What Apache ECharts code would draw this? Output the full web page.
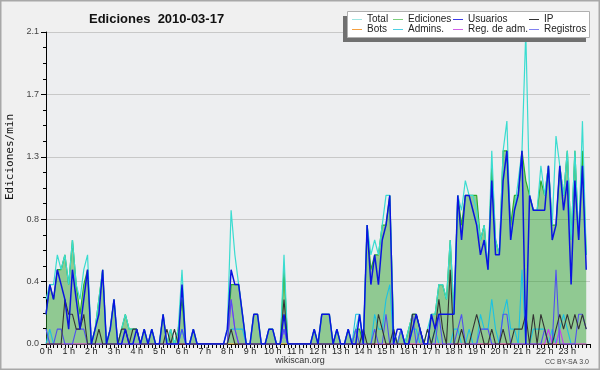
<!DOCTYPE html>
<html><head><meta charset="utf-8">
<script src="https://cdn.jsdelivr.net/npm/echarts/dist/echarts.min.js"></script>
<style>html,body{margin:0;padding:0;background:#f0f0f0}#c{width:600px;height:370px}</style>
</head><body><div id="c"></div>
<script>
const hourLabels = ['0 h','1 h','2 h','3 h','4 h','5 h','6 h','7 h','8 h','9 h','10 h','11 h','12 h','13 h','14 h','15 h','16 h','17 h','18 h','19 h','20 h','21 h','22 h','23 h'];
const legendNames = ['Total','Ediciones','Usuarios','IP','Bots','Admins.','Reg. de adm.','Registros'];
// values per 10-minute slot (edits/min), 6 per hour
const total = [
 0.3,0.4,0.4,0.6,0.5,0.6, 0.4,0.7,0.4,0.3,0.5,0.6, 0,0.1,0.3,0.5,0,0.1, 0.3,0,0.1,0.2,0.1,0.1,
 0.1,0,0.1,0,0.1,0, 0,0.2,0,0.1,0,0.1, 0.5,0,0,0.1,0,0, 0,0,0,0,0,0,
 0.1,0.9,0.6,0.4,0.2,0, 0,0.2,0.2,0,0,0.1, 0.1,0,0,0.6,0,0, 0,0,0,0,0,0.1,
 0,0.2,0.2,0.2,0,0.1, 0,0,0.1,0,0.1,0.2, 0,0.8,0.6,0.7,0.6,0.8, 1.0,1.0,0.1,0,0.1,0,
 0.1,0.2,0.2,0.1,0,0.1, 0.2,0.2,0.4,0.4,0.3,0.7, 0.2,1.0,0.9,1.1,1.0,1.0, 0.9,0.7,0.8,0.5,1.3,0.7,
 0.6,1.3,1.5,0.7,0.9,1.1, 1.3,2.1,1.0,0.9,0.9,1.2, 1.0,1.2,0.8,1.4,1.2,1.0, 1.3,0.7,1.3,0.7,1.5,0.6
];
const ediciones = [
 0.2,0.4,0.3,0.5,0.5,0.6, 0.4,0.7,0.4,0.2,0.4,0.5, 0,0.1,0.3,0.5,0,0.1, 0.3,0,0.1,0.2,0.1,0.1,
 0.1,0,0.1,0,0.1,0, 0,0.2,0,0.1,0,0.1, 0.3,0,0,0.1,0,0, 0,0,0,0,0,0,
 0,0.4,0.4,0.4,0.2,0, 0,0.2,0.2,0,0,0.1, 0.1,0,0,0.5,0,0, 0,0,0,0,0,0.1,
 0,0.2,0.2,0.2,0,0.1, 0,0,0.1,0,0.1,0.1, 0,0.8,0.5,0.6,0.6,0.8, 0.8,1.0,0.1,0,0.1,0,
 0.1,0.2,0.2,0.1,0,0, 0.2,0.2,0.4,0.4,0.3,0.7, 0.2,1.0,0.8,1.0,1.0,1.0, 1.0,0.7,0.8,0.5,1.2,0.7,
 0.6,1.3,1.3,0.8,1.0,1.0, 1.3,1.1,1.0,0.9,0.9,1.1, 1.0,1.2,0.8,0.8,1.2,1.0, 1.3,0.7,1.3,0.7,1.3,0.6
];
const usuarios = [
 0.2,0.4,0.3,0.5,0.4,0.3, 0.1,0.5,0.3,0.1,0.3,0.5, 0,0.1,0.2,0.5,0,0.1, 0.3,0,0,0.1,0,0,
 0.1,0,0.1,0,0.1,0, 0,0.2,0,0,0,0, 0.4,0,0,0.1,0,0, 0,0,0,0,0,0,
 0.1,0.5,0.4,0.4,0.2,0, 0,0.2,0.2,0,0,0.1, 0.1,0,0,0.2,0,0, 0,0,0,0,0,0.1,
 0,0.2,0.2,0.2,0,0.1, 0,0,0.1,0,0,0.2, 0,0.8,0.4,0.6,0.4,0.7, 0.8,1.0,0,0.1,0.1,0,
 0,0.1,0.2,0.1,0,0, 0.2,0.1,0.2,0.2,0.2,0.2, 0.2,1.0,0.7,1.0,1.0,0.9, 0.8,0.6,0.7,0.5,1.1,0.6,
 0.6,1.1,1.3,0.7,0.9,1.0, 1.3,0,1.0,0.9,0.9,0.9, 0.9,1.2,0.7,0.8,1.2,0.9, 1.1,0.4,1.1,0.7,1.2,0.5
];
const ip = [
 0,0,0,0,0,0.3, 0.2,0.2,0.1,0.1,0.2,0, 0,0,0.1,0,0,0, 0,0,0.1,0.1,0,0.1,
 0.1,0,0,0,0,0, 0,0,0.1,0,0.1,0, 0,0,0,0,0,0, 0,0,0,0,0,0,
 0,0.1,0,0,0,0, 0,0,0,0,0,0, 0,0,0,0.3,0,0, 0,0,0,0,0,0,
 0,0,0,0,0,0, 0,0,0,0,0,0, 0.1,0,0,0,0.2,0.1, 0,0,0.1,0,0,0,
 0,0.2,0.2,0.1,0,0.1, 0,0.1,0.3,0.1,0,0.5, 0,0,0.1,0,0,0.1, 0.2,0.1,0,0,0.1,0,
 0,0.1,0,0,0.1,0.1, 0.1,0.2,0,0.2,0,0.2, 0.1,0,0,0.1,0.2,0.1, 0.2,0.1,0.2,0.1,0.2,0.1
];
const bots = [
 0,0,0,0,0,0, 0,0,0,0,0,0, 0,0,0,0,0,0, 0,0,0,0,0,0,
 0,0,0,0,0,0, 0,0,0,0,0,0, 0,0,0,0,0,0, 0,0,0,0,0,0,
 0,0,0,0,0,0, 0,0,0,0,0,0, 0,0,0,0,0,0, 0,0,0,0,0,0,
 0,0,0,0,0,0, 0,0,0,0,0,0, 0,0,0,0,0,0, 0,0,0,0,0,0,
 0,0,0,0,0,0, 0,0,0,0,0,0, 0,0,0,0,0,0, 0,0,0,0,0,0,
 0,0,0,0,0,0, 0,0,0,0,0,0, 0,0,0,0,0,0, 0,0,0,0,0,0
];
const admins = [
 0,0.1,0,0,0,0, 0,0,0,0,0,0, 0,0,0,0,0,0, 0,0,0,0,0,0,
 0,0,0,0,0,0, 0,0,0,0,0,0, 0.1,0,0,0,0,0, 0,0,0,0,0,0,
 0,0.1,0.1,0.1,0.1,0, 0,0,0,0,0,0, 0,0,0,0.1,0,0, 0,0,0,0,0,0,
 0,0,0,0,0,0, 0,0,0,0,0.2,0.2, 0,0,0,0.2,0.1,0.1, 0.3,0.4,0,0,0,0,
 0,0.1,0.1,0,0,0, 0,0.1,0,0,0,0, 0.1,0.1,0,0,0.1,0, 0,0.2,0.1,0.1,0.3,0.1,
 0,0.2,0.3,0.1,0.1,0, 0.5,0,0,0.1,0.1,0.1, 0.1,0,0.1,0,0.1,0.2, 0.1,0,0,0,0,0
];
const regAdm = [
 0,0,0,0,0,0, 0,0,0,0,0,0, 0,0,0,0,0,0, 0,0,0,0,0,0,
 0,0,0,0,0,0, 0,0,0,0,0,0, 0,0,0,0,0,0, 0,0,0,0,0,0,
 0,0.3,0.1,0,0,0, 0,0,0,0,0,0, 0,0,0,0.1,0,0, 0,0,0,0,0,0,
 0,0,0,0,0,0, 0,0,0,0,0,0, 0,0,0,0,0,0, 0,0,0,0,0,0,
 0,0,0,0,0,0, 0,0,0,0,0,0, 0,0,0,0,0,0, 0,0,0,0,0,0,
 0,0,0,0,0,0, 0,0,0,0,0,0, 0,0.1,0,0,0.1,0, 0,0,0,0,0,0
];
const registros = [
 0.1,0,0,0.1,0.1,0, 0,0,0.1,0.1,0.1,0, 0,0,0,0,0,0, 0,0,0,0,0,0,
 0,0,0,0,0,0, 0,0,0,0,0,0, 0.1,0,0,0,0,0, 0,0,0,0,0,0,
 0,0.3,0.1,0,0,0, 0,0,0,0,0,0, 0,0,0,0.1,0,0, 0,0,0,0,0,0,
 0,0,0,0,0,0, 0,0,0,0,0.1,0, 0,0,0,0.1,0,0, 0.2,0,0,0,0.1,0,
 0,0.2,0,0.1,0,0, 0,0,0.2,0,0,0, 0,0.1,0.2,0,0,0, 0,0.1,0.1,0.1,0,0,
 0,0.2,0.2,0,0,0, 0,0,0,0,0,0, 0.1,0,0,0.5,0,0, 0,0,0,0.2,0.2,0.1
];

const colors = {
  total:'#3adcd0', ediciones:'#2aae2a', usuarios:'#0a14e0', ip:'#333333',
  bots:'#ff9a30', admins:'#1cc2e2', regAdm:'#c83cf0', registros:'#5050f0'
};
const legendColors = ['#9ee6e2','#7ccf7c','#3a3ae8','#333333','#f5a040','#4fd0e4','#d060e8','#8080f0'];

function pts(arr){ return arr.map((v,i)=>[i,v]); }
function line(name, arr, color, w, extra){
  return Object.assign({type:'line', name, data:pts(arr), showSymbol:false, symbol:'none',
    lineStyle:{color, width:w}, itemStyle:{color}, silent:true}, extra||{});
}

const chart = echarts.init(document.getElementById('c'), null, {renderer:'canvas'});

const legendCols = [352, 393, 453, 529];
const legendRows = [19, 29];
const legendGraphics = [];
legendNames.forEach((n,k)=>{
  const col = k%4, row = Math.floor(k/4);
  const x = legendCols[col], y = legendRows[row];
  legendGraphics.push({type:'line', shape:{x1:x, y1:y+0.5, x2:x+10, y2:y+0.5}, style:{stroke:legendColors[k], lineWidth:1}, z:102});
  legendGraphics.push({type:'text', x:x+15, y:y, style:{text:n, font:'10px "Liberation Sans"', fill:'#222', verticalAlign:'middle', align:'left'}, z:102});
});

chart.setOption({
  animation:false,
  backgroundColor:'#f0f0f0',
  title:{text:'Ediciones  2010-03-17', left:84, top:8,
    textStyle:{fontSize:13, fontWeight:'bold', fontFamily:'Liberation Sans', color:'#111'}},
  grid:{left:46, right:10, top:32, bottom:26, show:true, backgroundColor:'#edeef0', borderWidth:0},
  xAxis:{type:'value', min:0, max:144, interval:6,
    axisLine:{lineStyle:{color:'#000', width:1}},
    axisTick:{show:true, length:4, lineStyle:{color:'#000'}},
    minorTick:{show:true, splitNumber:6, length:4, lineStyle:{color:'#000'}},
    splitLine:{show:false},
    axisLabel:{margin:3, fontSize:9, color:'#222', fontFamily:'Liberation Sans',
      formatter:v=>hourLabels[Math.round(v/6)]||''}},
  yAxis:{type:'value', min:0, max:2.1, interval:0.42,
    axisLine:{show:true, lineStyle:{color:'#000', width:1}},
    axisTick:{show:true, length:5, lineStyle:{color:'#000'}},
    minorTick:{show:true, splitNumber:4, length:3, lineStyle:{color:'#000'}},
    splitLine:{show:true, lineStyle:{color:'#c8c8c8', width:1}},
    axisLabel:{margin:7, fontSize:9, color:'#444', fontFamily:'Liberation Sans',
      formatter:v=>v.toFixed(1)}},
  series:[
    line('Ediciones', ediciones, colors.ediciones, 1.2, {areaStyle:{color:'rgba(40,160,40,0.47)', opacity:1}, z:1}),
    line('Total', total, colors.total, 1.2, {z:2}),
    line('Admins.', admins, colors.admins, 1.1, {z:3}),
    line('Bots', bots, colors.bots, 1, {z:3}),
    line('Reg. de adm.', regAdm, colors.regAdm, 1.1, {z:3}),
    line('Registros', registros, colors.registros, 1.1, {z:4}),
    line('IP', ip, colors.ip, 1.1, {z:5}),
    line('Usuarios', usuarios, colors.usuarios, 1.5, {z:6})
  ],
  graphic:[
    {type:'rect', shape:{x:0.5, y:0.5, width:599, height:369}, style:{fill:'none', stroke:'#a8a8a8', lineWidth:2}, z:110, silent:true},
    {type:'text', x:10, y:157, rotation:Math.PI/2, style:{text:'Ediciones/min', font:'11px "DejaVu Sans Mono"', fill:'#111', align:'center', verticalAlign:'middle'}, z:100},
    {type:'text', x:300, y:361, style:{text:'wikiscan.org', font:'9px "Liberation Sans"', fill:'#333', align:'center', verticalAlign:'middle'}, z:100},
    {type:'text', x:589, y:362, style:{text:'CC BY-SA 3.0', font:'7px "Liberation Sans"', fill:'#444', align:'right', verticalAlign:'middle'}, z:100},
    {type:'rect', shape:{x:343, y:16, width:243, height:26}, style:{fill:'#707070'}, z:100},
    {type:'rect', shape:{x:347.5, y:11.5, width:242, height:26}, style:{fill:'#ffffff', stroke:'#b0b0b0', lineWidth:1}, z:101}
  ].concat(legendGraphics)
});
</script>
</body></html>
